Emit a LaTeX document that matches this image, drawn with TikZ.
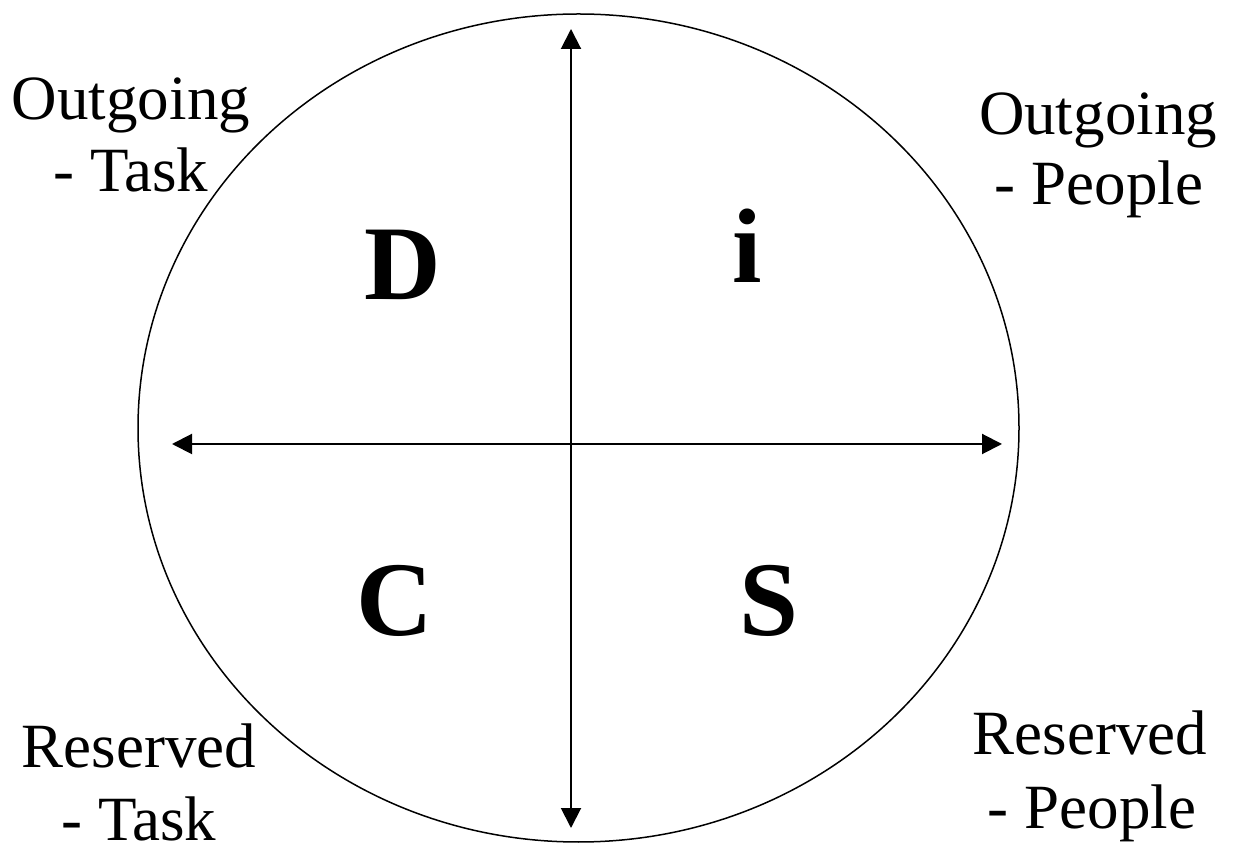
\documentclass[tikz,border=0pt]{standalone}
\usepackage{fontspec}
\setmainfont{Liberation Serif}
\usetikzlibrary{arrows.meta}
\begin{document}
\begin{tikzpicture}[x=1pt,y=1pt,
  lbl/.style={anchor=base,inner sep=0pt,font=\fontsize{63}{72}\selectfont},
  big/.style={anchor=base,inner sep=0pt,font=\fontsize{106}{110}\selectfont\bfseries},
  axis/.style={line width=2pt,{Triangle[width=20pt,length=20pt]}-{Triangle[width=20pt,length=20pt]}}]
\useasboundingbox (0,0) rectangle (1236,851);
\draw[line width=1.5pt] (578.5,423) ellipse [x radius=440.5, y radius=414];
\coordinate (top) at (571,822);
\coordinate (bot) at (571,23);
\coordinate (lft) at (172,407);
\coordinate (rgt) at (1002,407);
\draw[axis] (bot) -- (top);
\draw[axis] (lft) -- (rgt);
\node[big] (D) at (403,551) {D};
\node[big] (I) at (747,568) {i};
\node[big] (C) at (395,215) {C};
\node[big] (S) at (769,215) {S};
\node[lbl] (otl1) at (131,731) {Outgoing};
\node[lbl] (otl2) at (131,659) {- Task};
\node[lbl] (otr1) at (1098,716) {Outgoing};
\node[lbl] (otr2) at (1099,646) {- People};
\node[lbl] (rbl1) at (139,83) {Reserved};
\node[lbl] (rbl2) at (139,11) {- Task};
\node[lbl] (rbr1) at (1090,96) {Reserved};
\node[lbl] (rbr2) at (1092,23) {- People};
\end{tikzpicture}
\end{document}
